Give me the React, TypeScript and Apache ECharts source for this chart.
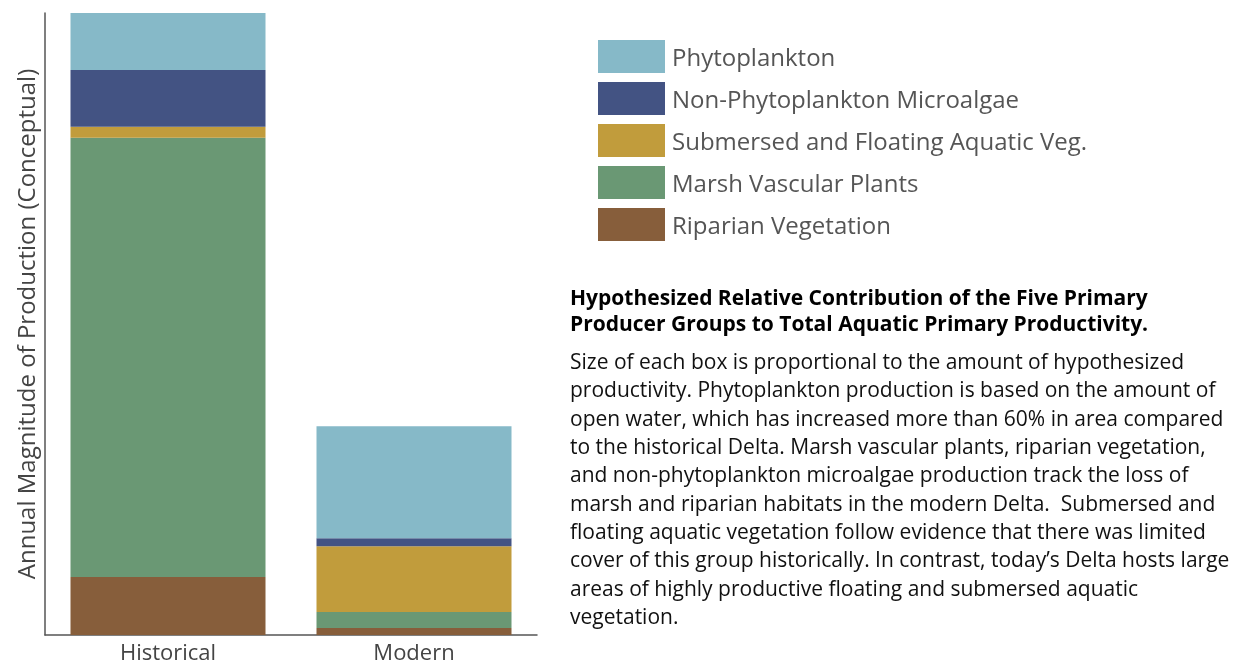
import React, { useEffect, useRef } from "react";
import * as echarts from "echarts";

const categories = ["Historical", "Modern"];
const seriesNames = [
  "Riparian Vegetation",
  "Marsh Vascular Plants",
  "Submersed and Floating Aquatic Veg.",
  "Non-Phytoplankton Microalgae",
  "Phytoplankton",
];
const riparian = [58, 7];
const marsh = [440, 16];
const sav = [11, 66];
const nonPhyto = [57, 8];
const phyto = [57, 112];
const seriesValues = [riparian, marsh, sav, nonPhyto, phyto];
const seriesColors = ["#875E3B", "#6A9874", "#C19C3C", "#435383", "#86B9C8"];
const legendOrder = [
  "Phytoplankton",
  "Non-Phytoplankton Microalgae",
  "Submersed and Floating Aquatic Veg.",
  "Marsh Vascular Plants",
  "Riparian Vegetation",
];
const yAxisTitle = "Annual Magnitude of Production (Conceptual)";
const titleLines = [
  "Hypothesized Relative Contribution of the Five Primary",
  "Producer Groups to Total Aquatic Primary Productivity.",
];
const bodyLines = [
  "Size of each box is proportional to the amount of hypothesized",
  "productivity. Phytoplankton production is based on the amount of",
  "open water, which has increased more than 60% in area compared",
  "to the historical Delta. Marsh vascular plants, riparian vegetation,",
  "and non-phytoplankton microalgae production track the loss of",
  "marsh and riparian habitats in the modern Delta.  Submersed and",
  "floating aquatic vegetation follow evidence that there was limited",
  "cover of this group historically. In contrast, today\u2019s Delta hosts large",
  "areas of highly productive floating and submersed aquatic",
  "vegetation.",
];

const FONT = "'Open Sans', 'Noto Sans', sans-serif";

export default function App() {
  const ref = useRef<HTMLDivElement>(null);
  useEffect(() => {
    if (!ref.current) return;
    document.body.style.margin = "0";
    document.body.style.overflow = "hidden";
    const chart = echarts.init(ref.current, undefined, { renderer: "svg" });
    const total = Math.max(...categories.map((_, i) => seriesValues.reduce((s, v) => s + v[i], 0)));
    chart.setOption({
      animation: false,
      textStyle: { fontFamily: FONT },
      grid: { left: 45, top: 13, right: 705, bottom: 30, containLabel: false },
      legend: {
        data: legendOrder,
        orient: "vertical",
        left: 598,
        top: 40,
        padding: 0,
        itemWidth: 67,
        itemHeight: 33,
        itemGap: 9,
        icon: "rect",
        selectedMode: false,
        textStyle: { fontSize: 24, color: "#555555", fontFamily: FONT, padding: [0, 0, 0, 2] },
      },
      xAxis: {
        type: "category",
        data: categories,
        axisLine: { lineStyle: { color: "#555555", width: 1.5 } },
        axisTick: { show: false },
        axisLabel: { fontSize: 22, color: "#444444", margin: 5, fontFamily: FONT },
      },
      yAxis: {
        type: "value",
        min: 0,
        max: total,
        name: yAxisTitle,
        nameLocation: "middle",
        nameGap: 8,
        nameRotate: 90,
        nameTextStyle: { fontSize: 24, color: "#444444", fontFamily: FONT },
        axisLine: { show: true, lineStyle: { color: "#555555", width: 1.5 } },
        axisTick: { show: false },
        axisLabel: { show: false },
        splitLine: { show: false },
      },
      series: seriesNames.map((name, i) => ({
        name,
        type: "bar",
        stack: "total",
        barWidth: 195,
        data: seriesValues[i],
        itemStyle: { color: seriesColors[i] },
      })),
      graphic: [
        {
          type: "text",
          left: 570,
          top: 284,
          style: {
            text: titleLines.join("\n"),
            font: `bold 21px ${FONT}`,
            lineHeight: 26,
            fill: "#000000",
          },
        },
        {
          type: "text",
          left: 570,
          top: 347,
          style: {
            text: bodyLines.join("\n"),
            font: `21px ${FONT}`,
            lineHeight: 28.3,
            fill: "#111111",
          },
        },
      ],
    });
    return () => chart.dispose();
  }, []);
  return (
    <div
      ref={ref}
      style={{ position: "fixed", left: 0, top: 0, width: 1242, height: 665 }}
    />
  );
}
